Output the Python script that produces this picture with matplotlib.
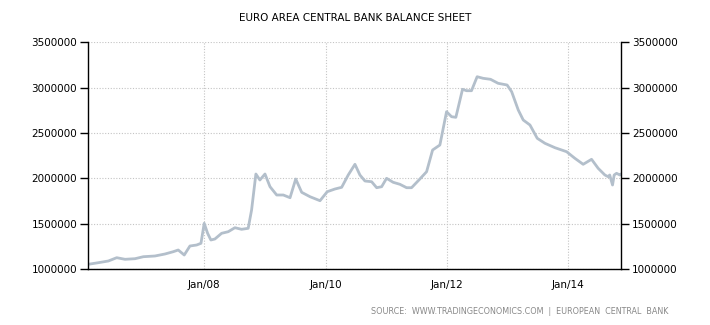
import matplotlib
matplotlib.use("Agg")
import matplotlib.pyplot as plt
import matplotlib.dates as mdates
import pandas as pd

title = "EURO AREA CENTRAL BANK BALANCE SHEET"
source = "SOURCE:  WWW.TRADINGECONOMICS.COM  |  EUROPEAN  CENTRAL  BANK"

# decimal years of the observations
years = [
    2006.088, 2006.253, 2006.418, 2006.556, 2006.693, 2006.858, 2006.995,
    2007.187, 2007.352, 2007.489, 2007.571, 2007.670, 2007.764, 2007.875,
    2007.946, 2008.000, 2008.056, 2008.110, 2008.176, 2008.287, 2008.396,
    2008.506, 2008.616, 2008.725, 2008.781, 2008.852, 2008.918, 2009.000,
    2009.083, 2009.193, 2009.302, 2009.413, 2009.507, 2009.605, 2009.742,
    2009.907, 2010.027, 2010.154, 2010.265, 2010.373, 2010.484, 2010.566,
    2010.649, 2010.759, 2010.842, 2010.924, 2011.006, 2011.115, 2011.226,
    2011.336, 2011.418, 2011.555, 2011.666, 2011.765, 2011.885, 2011.995,
    2012.078, 2012.149, 2012.259, 2012.325, 2012.407, 2012.500, 2012.599,
    2012.721, 2012.846, 2012.994, 2013.067, 2013.176, 2013.258, 2013.369,
    2013.489, 2013.616, 2013.781, 2013.973, 2014.110, 2014.247, 2014.385,
    2014.494, 2014.605, 2014.659, 2014.684, 2014.731, 2014.758, 2014.797,
    2014.852, 2014.868,
]
values = [
    1052000, 1069500, 1088200, 1124600, 1107000, 1113600, 1135600,
    1143400, 1165400, 1190800, 1209500, 1154400, 1253600, 1264700,
    1283400, 1504000, 1393700, 1319800, 1330800, 1393700, 1411300,
    1455500, 1437800, 1448800, 1650000, 2047700, 1981500, 2047700,
    1907600, 1816100, 1816100, 1786300, 1992500, 1845800, 1797300,
    1753200, 1852500, 1882200, 1901000, 2036600, 2154600, 2036600,
    1970500, 1962700, 1896600, 1907600, 2000200, 1956100, 1934100,
    1896600, 1896600, 1992500, 2073000, 2312300, 2367500, 2734700,
    2679600, 2672900, 2981700, 2966300, 2966300, 3120700, 3103000,
    3092000, 3047900, 3029200, 2955300, 2753500, 2643200, 2588000,
    2441400, 2386200, 2337700, 2293600, 2220800, 2154600, 2209800,
    2110500, 2036600, 2017900, 2036600, 1926400, 2036600, 2055400,
    2036600, 2047700,
]
y_ticks = [1000000, 1500000, 2000000, 2500000, 3000000, 3500000]
x_ticks = ["2008-01-01", "2010-01-01", "2012-01-01", "2014-01-01"]
x_range = [2006.088, 2014.870]


def to_date(y):
    yr = int(y)
    return pd.Timestamp(year=yr, month=1, day=1) + pd.Timedelta(days=(y - yr) * 365.25)


d = [to_date(y) for y in years]

fig = plt.figure(figsize=(7.1, 3.25), dpi=100)
ax = fig.add_axes([0.1244, 0.1723, 0.8746 - 0.1244, 0.8698 - 0.1723])

ax.plot(d, values, color="#b3bfcb", lw=2.0, solid_joinstyle="round",
        solid_capstyle="round")

ax.set_xlim(to_date(x_range[0]), to_date(x_range[1]))
ax.set_ylim(y_ticks[0], y_ticks[-1])
ax.set_yticks(y_ticks)
ax.set_yticklabels([str(v) for v in y_ticks])
ax.set_xticks(pd.to_datetime(x_ticks))
ax.xaxis.set_major_formatter(mdates.DateFormatter("Jan/%y"))

ax.grid(True, color="#c4c4c4", linestyle=(0, (1, 1.5)), linewidth=0.8)
ax.spines["top"].set_visible(False)
for s in ["left", "right", "bottom"]:
    ax.spines[s].set_color("black")
    ax.spines[s].set_linewidth(1.0)

ax.tick_params(axis="y", which="both", left=True, right=True,
               labelleft=True, labelright=True, length=6, width=1,
               direction="out", labelsize=7.5, pad=2, colors="black")
ax.tick_params(axis="x", length=0, labelsize=7.5, pad=8)

fig.text(0.5, 0.945, title, ha="center", va="center", fontsize=7.5,
         family="DejaVu Sans")
fig.text(0.942, 0.043, source, ha="right", va="center", fontsize=5.8,
         color="#888888")

fig.savefig("out.png", dpi=100, facecolor="white")
